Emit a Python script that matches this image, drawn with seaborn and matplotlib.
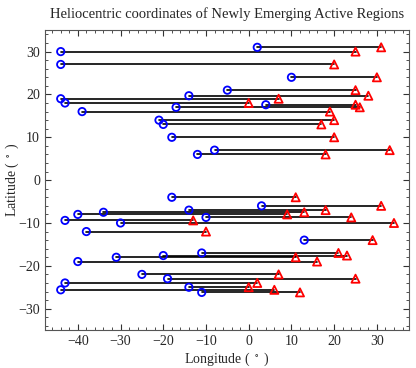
import numpy as np
import pandas as pd
import seaborn as sns
import matplotlib
matplotlib.use("Agg")
import matplotlib.pyplot as plt
from matplotlib.ticker import MultipleLocator

# Newly emerging active regions: latitude, start and end longitude (deg)
latitude = [31, 30, 27, 24, 21, 19.7, 19, 18, 17.6, 17, 16, 14, 13, 10, 7, 6,
            -4, -6, -7, -7.5, -8, -8.7, -9.4, -10, -12, -14, -17, -17.6, -18,
            -19, -22, -23, -24, -25, -25.6, -26.2]
lon_start = [2, -44, -44, 10, -5, -14, -44, -43, 4, -17, -39, -21, -20, -18, -8, -12,
             -18, 3, -14, -34, -40, -10, -43, -30, -38, 13, -11, -20, -31,
             -40, -25, -19, -43, -14, -44, -11]
lon_end = [31, 25, 20, 30, 25, 28, 7, 0, 25, 26, 19, 20, 17, 20, 33, 18,
           11, 31, 18, 13, 9, 24, -13, 34, -10, 29, 21, 23, 11,
           16, 7, 25, 2, 0, 6, 12]

ids = np.arange(len(latitude))
lines = pd.DataFrame({
    "id": np.concatenate([ids, ids]),
    "lon": lon_start + lon_end,
    "lat": latitude + latitude,
})
starts = pd.DataFrame({"lon": lon_start, "lat": latitude})
ends = pd.DataFrame({"lon": lon_end, "lat": latitude})

sns.set_style("ticks")
plt.rcParams["font.family"] = ["Liberation Serif", "DejaVu Serif"]
plt.rcParams["mathtext.fontset"] = "stix"

fig = plt.figure(figsize=(4.16, 3.68), dpi=100)
ax = fig.add_axes([0.108, 0.103, 0.875, 0.815])

sns.lineplot(data=lines, x="lon", y="lat", units="id", estimator=None,
             color="black", lw=1.2, sort=False, ax=ax, legend=False)
sns.scatterplot(data=starts, x="lon", y="lat", marker="o", s=28,
                facecolor="none", edgecolor="blue", linewidth=1.3, ax=ax, zorder=3)
sns.scatterplot(data=ends, x="lon", y="lat", marker="^", s=34,
                facecolor="none", edgecolor="red", linewidth=1.3, ax=ax, zorder=3)

ax.set_xlim(-47.7, 37.5)
ax.set_ylim(-35, 35)
ax.xaxis.set_major_locator(MultipleLocator(10))
ax.xaxis.set_minor_locator(MultipleLocator(2))
ax.yaxis.set_major_locator(MultipleLocator(10))
ax.yaxis.set_minor_locator(MultipleLocator(2))
ax.tick_params(which="both", direction="in", top=True, right=True,
               labelsize=10, color="#333333")
ax.tick_params(which="major", length=4, width=0.8)
ax.tick_params(which="minor", length=2, width=0.6)
for sp in ax.spines.values():
    sp.set_color("#555555")
    sp.set_linewidth(0.8)

ax.set_xlabel(r"Longitude ( $^\circ$ )", fontsize=10, labelpad=2)
ax.set_ylabel(r"Latitude ( $^\circ$ )", fontsize=10)
ax.yaxis.set_label_coords(-0.066, 0.5)
ax.set_title("Heliocentric coordinates of Newly Emerging Active Regions",
             fontsize=10.5, pad=9)

fig.savefig("out.png", dpi=100)
